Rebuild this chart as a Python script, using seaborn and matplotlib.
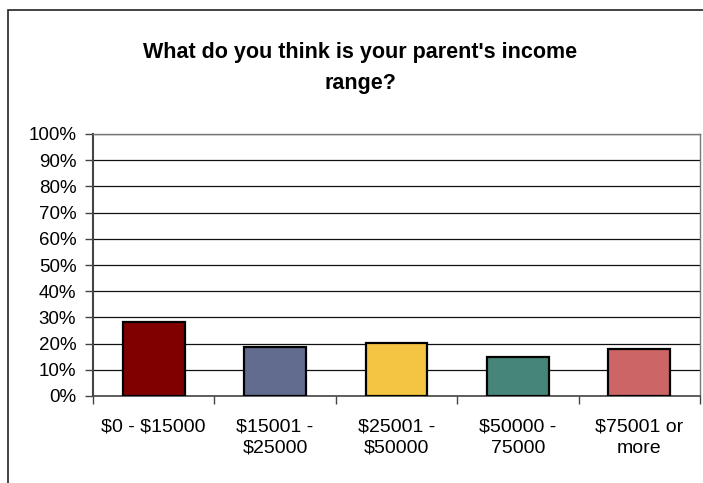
import matplotlib
matplotlib.use("Agg")
import matplotlib.pyplot as plt
import seaborn as sns
import pandas as pd
from matplotlib.patches import Rectangle
from matplotlib.ticker import MultipleLocator, PercentFormatter

categories = ["$0 - $15000", "$15001 -\n$25000", "$25001 -\n$50000", "$50000 -\n75000", "$75001 or\nmore"]
values = [28.4, 18.6, 20.2, 15.0, 18.0]
colors = ["#800000", "#616C8F", "#F4C542", "#46867A", "#CC6666"]
title = "What do you think is your parent's income\nrange?"

sns.set_theme(style="white")
plt.rcParams["font.family"] = ["Liberation Sans", "DejaVu Sans"]
plt.rcParams["text.parse_math"] = False

W, H = 703, 483
fig = plt.figure(figsize=(W / 100, H / 100), dpi=100)
fig.patch.set_facecolor("white")

# outer chart border (extends beyond right/bottom edges)
fig.patches.append(Rectangle((8 / W, -0.1), 1.2, (H - 10) / H + 0.1, transform=fig.transFigure,
                             fill=False, edgecolor="#222222", linewidth=1.2))

left, right, top, bottom = 93, 700, 134, 396
ax = fig.add_axes([left / W, (H - bottom) / H, (right - left) / W, (bottom - top) / H])

df = pd.DataFrame({"cat": categories, "val": values})
sns.barplot(data=df, x="cat", y="val", hue="cat", palette=colors, legend=False, saturation=1,
            width=0.51, edgecolor="black", linewidth=1.6, ax=ax, zorder=3)

ax.set_ylim(0, 100)
ax.set_xlim(-0.5, 4.5)
ax.yaxis.set_major_locator(MultipleLocator(10))
ax.yaxis.set_major_formatter(PercentFormatter(decimals=0))
ax.set_xlabel("")
ax.set_ylabel("")
ax.grid(axis="y", color="#111111", linewidth=0.9, zorder=0)
ax.set_axisbelow(True)

for s in ["top", "right"]:
    ax.spines[s].set_color("#777777")
    ax.spines[s].set_linewidth(1.0)
ax.spines["left"].set_color("#444444")
ax.spines["left"].set_linewidth(1.5)
ax.spines["bottom"].set_color("#444444")
ax.spines["bottom"].set_linewidth(1.2)

ax.tick_params(axis="y", which="major", left=True, length=6, width=1.0, color="#444444",
               labelsize=13.5, pad=6, labelcolor="black")
ax.set_xticks(range(len(categories)))
ax.set_xticklabels(categories, fontsize=14, color="black", linespacing=1.35)
ax.tick_params(axis="x", which="major", bottom=False, pad=10)
ax.set_xticks([0.5 + i for i in range(-1, len(categories))], minor=True)
ax.tick_params(axis="x", which="minor", bottom=True, length=6, width=1.0, color="#444444")

fig.text(360 / W, 1 - 42 / H, title, ha="center", va="top", fontsize=15.5,
         fontweight="bold", color="black", linespacing=1.6)

fig.savefig("out.png", dpi=100, facecolor="white")
